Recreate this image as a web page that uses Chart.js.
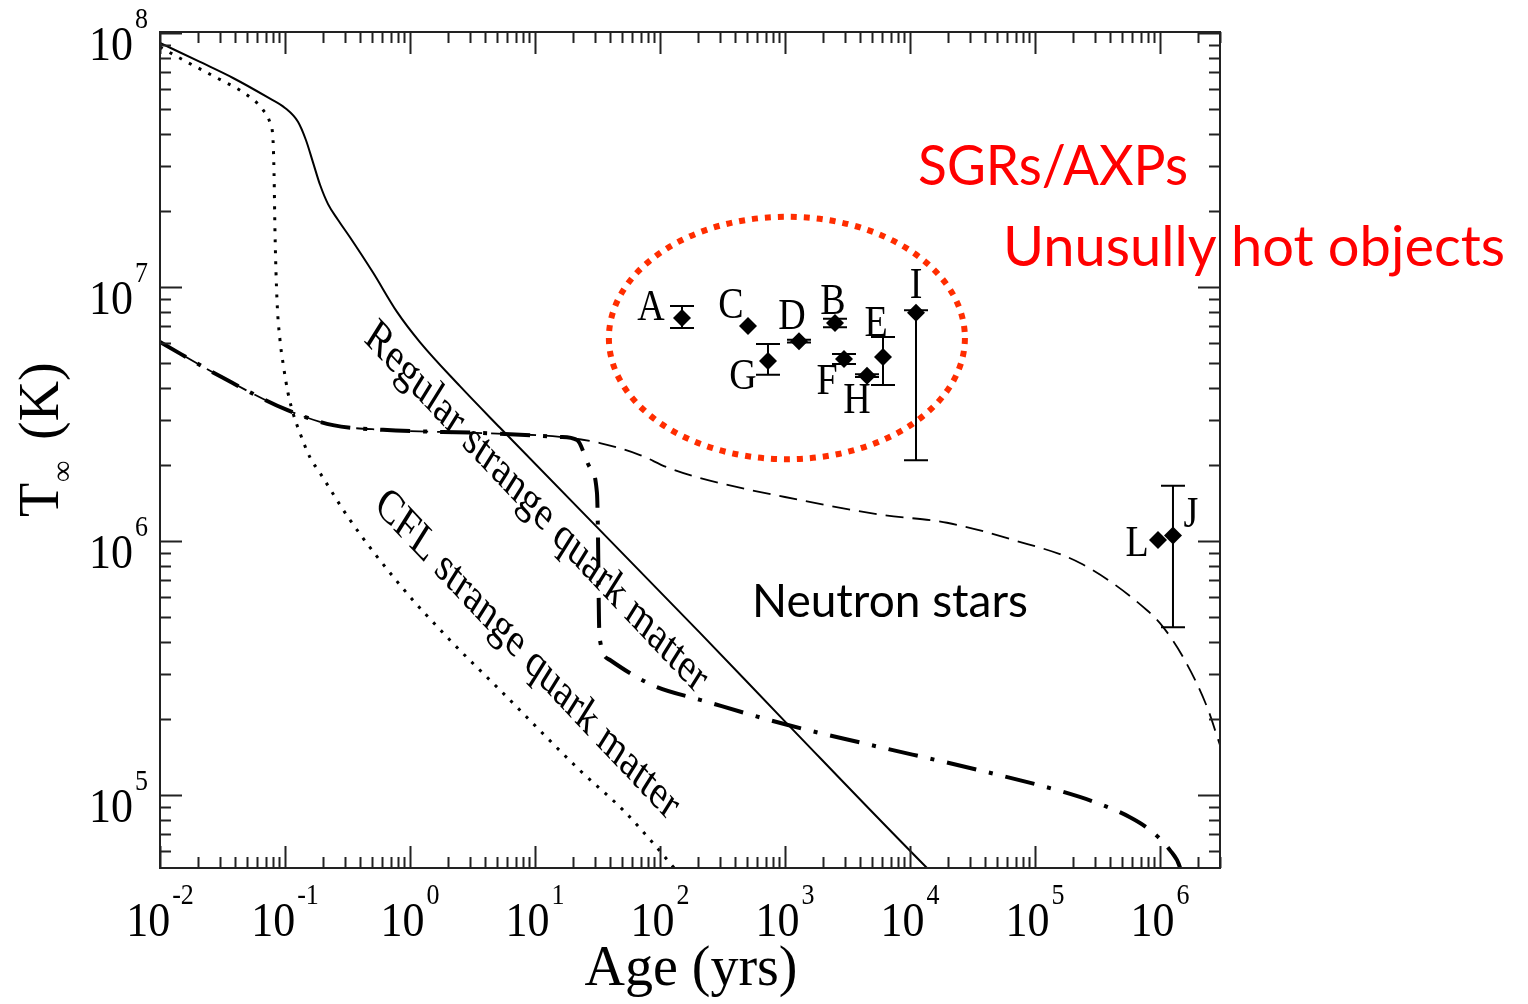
<!DOCTYPE html>
<html>
<head>
<meta charset="utf-8">
<script src="https://cdn.jsdelivr.net/npm/chart.js@4.4.1/dist/chart.umd.min.js"></script>
<style>
  html, body { margin: 0; padding: 0; background: #fff; }
  canvas { display: block; }
</style>
</head>
<body>
<canvas id="coolingChart" width="1528" height="1004"></canvas>
<script>
// Cooling curves, age (yrs) vs T_inf (K)

// Regular strange quark matter (solid)
const regularAge  = [0.01, 0.0209, 0.0384, 0.0718, 0.1, 0.127, 0.147, 0.167, 0.191, 0.221, 0.265, 0.331, 0.506, 0.787, 1.2, 2.51, 5.25, 209, 1038, 13680, 20000];
const regularTemp = [9.14e7, 7.69e7, 6.65e7, 5.6e7, 5.07e7, 4.47e7, 3.79e7, 3.11e7, 2.52e7, 2.12e7, 1.84e7, 1.57e7, 1.14e7, 7.98e6, 6.07e6, 4.07e6, 2.79e6, 4.35e5, 1.91e5, 5.16e4, 4.3e4];

// CFL strange quark matter (dotted)
const cflAge  = [0.01, 0.0164, 0.0286, 0.0497, 0.0667, 0.0759, 0.0802, 0.0817, 0.0832, 0.0863, 0.0912, 0.0964, 0.1057, 0.1159, 0.1318, 0.158, 0.191, 0.331, 0.832, 2.09, 5.25, 22.9, 50.6, 87.9, 120, 145];
const cflTemp = [8.8e7, 7.69e7, 6.65e7, 5.7e7, 4.98e7, 4.43e7, 3.79e7, 2.81e7, 1.63e7, 8.89e6, 6.18e6, 5.02e6, 3.83e6, 3.19e6, 2.66e6, 2.14e6, 1.85e6, 1.21e6, 6.71e5, 4.07e5, 2.59e5, 1.25e5, 8.73e4, 6.47e4, 5.4e4, 4.84e4];

// Dash-dot curve
const dashDotAge  = [0.01, 0.0319, 0.1038, 0.242, 0.608, 3.84, 15.8, 21.7, 27.5, 31.3, 31.9, 32.5, 33.1, 39.8, 60.8, 94.6, 209, 1038, 4207, 36300, 1.67e5, 3.13e5, 5.75e5, 8.32e5, 1.2e6, 1.45e6, 1.58e6];
const dashDotTemp = [6.07e6, 4.39e6, 3.28e6, 2.86e6, 2.74e6, 2.66e6, 2.57e6, 2.5e6, 1.95e6, 1.55e6, 1.07e6, 4.89e5, 4.07e5, 3.4e5, 2.97e5, 2.66e5, 2.37e5, 1.89e5, 1.6e5, 1.25e5, 1.03e5, 9.31e4, 8.18e4, 7.28e4, 6.07e4, 5.16e4, 4.2e4];

// Neutron stars (dashed)
const neutronAge  = [0.01, 0.0319, 0.1038, 0.242, 0.608, 3.84, 15.8, 33.1, 69.2, 114, 209, 1318, 5754, 19770, 66680, 2.29e5, 7.87e5, 1.06e6, 1.53e6, 2.38e6, 3.02e6];
const neutronTemp = [6.07e6, 4.39e6, 3.28e6, 2.86e6, 2.74e6, 2.66e6, 2.57e6, 2.43e6, 2.18e6, 1.95e6, 1.77e6, 1.45e6, 1.27e6, 1.18e6, 1.01e6, 8.19e5, 5.34e5, 4.58e5, 3.49e5, 2.22e5, 1.57e5];

// Observed objects
const objNames  = ['A', 'C', 'D', 'B', 'E', 'I', 'G', 'F', 'H', 'L', 'J'];
const objAge    = [150, 506, 1294, 2512, 6081, 11170, 731, 2965, 4529, 9.64e5, 1.27e6];
const objTemp   = [7.55e6, 7.02e6, 6.12e6, 7.21e6, 5.3e6, 7.91e6, 5.11e6, 5.21e6, 4.47e6, 1.01e6, 1.05e6];
const objTempHi = [8.41e6, null, 6.2e6, 7.5e6, 6.35e6, 8.1e6, 5.97e6, 5.45e6, 4.53e6, null, 1.65e6];
const objTempLo = [6.9e6, null, 6.05e6, 6.95e6, 4.11e6, 2.08e6, 4.51e6, 4.98e6, 4.42e6, null, 4.58e5];

// axis tick labels (powers of ten)
const xTickExps = [-2, -1, 0, 1, 2, 3, 4, 5, 6];
const yTickExps = [5, 6, 7, 8];

// label placement (pixel offsets from the marker)
const objLabelOffset = [[-31, -9], [-17, -20], [-7, -24], [-2, -21], [-7, -33], [0, -26], [-25, 16], [-17, 24], [-10, 26], [-21, 5], [18, -20]];

const SERIF = '"Liberation Serif", "Times New Roman", serif';
const SANS = 'Lato, "Open Sans", sans-serif';

function toPoints(xs, ys) {
    return xs.map((x, i) => ({ x: x, y: ys[i] }));
}

function logTicks(min, max) {
    const out = [];
    for (let d = Math.floor(Math.log10(min)); d <= Math.ceil(Math.log10(max)); d++) {
        for (let m = 1; m <= 9; m++) {
            const v = m * Math.pow(10, d);
            if (v >= min * 0.999 && v <= max) out.push({ v: v, major: m === 1 });
        }
    }
    return out;
}

// text with a vertical stretch (the source figure is squashed horizontally)
function stretchedText(ctx, text, x, y, sy) {
    ctx.save();
    ctx.translate(x, y);
    ctx.scale(1, sy);
    ctx.fillText(text, 0, 0);
    ctx.restore();
}

function powLabel(ctx, exp, x, baseline, align) {
    ctx.font = '44px ' + SERIF;
    const wb = ctx.measureText('10').width;
    ctx.font = '26px ' + SERIF;
    const we = ctx.measureText(String(exp)).width;
    const total = wb + 2 + we;
    const left = align === 'center' ? x - total / 2 : x - total;
    ctx.textAlign = 'left';
    ctx.textBaseline = 'alphabetic';
    ctx.font = '44px ' + SERIF;
    stretchedText(ctx, '10', left, baseline, 1.12);
    ctx.font = '26px ' + SERIF;
    stretchedText(ctx, String(exp), left + wb + 2, baseline - 32, 1.12);
}

const frameAxes = {
    id: 'frameAxes',
    afterDatasetsDraw(chart) {
        const ctx = chart.ctx;
        const area = chart.chartArea;
        const xs = chart.scales.x, ys = chart.scales.y;
        ctx.save();
        ctx.strokeStyle = '#222';
        ctx.lineWidth = 2;
        ctx.strokeRect(area.left, area.top, area.right - area.left, area.bottom - area.top);

        ctx.beginPath();
        logTicks(xs.min, xs.max).forEach(t => {
            const px = Math.round(xs.getPixelForValue(t.v)) + 0.5;
            const len = t.major ? 22 : 11;
            ctx.moveTo(px, area.bottom); ctx.lineTo(px, area.bottom - len);
            ctx.moveTo(px, area.top); ctx.lineTo(px, area.top + len);
        });
        logTicks(ys.min, ys.max).forEach(t => {
            const py = Math.round(ys.getPixelForValue(t.v)) + 0.5;
            const len = t.major ? 22 : 11;
            ctx.moveTo(area.left, py); ctx.lineTo(area.left + len, py);
            ctx.moveTo(area.right, py); ctx.lineTo(area.right - len, py);
        });
        ctx.stroke();

        ctx.fillStyle = '#000';
        xTickExps.forEach(e => {
            powLabel(ctx, e, xs.getPixelForValue(Math.pow(10, e)), 936, 'center');
        });
        yTickExps.forEach(e => {
            powLabel(ctx, e, 148, ys.getPixelForValue(Math.pow(10, e)) + 27, 'right');
        });

        // axis titles
        ctx.font = '56px ' + SERIF;
        ctx.textAlign = 'center';
        ctx.textBaseline = 'alphabetic';
        ctx.fillText('Age (yrs)', 691, 985);

        ctx.save();
        ctx.translate(58, 517);
        ctx.rotate(-Math.PI / 2);
        ctx.textAlign = 'left';
        ctx.font = '56px ' + SERIF;
        ctx.fillText('T', 0, 0);
        ctx.font = '30px ' + SERIF;
        ctx.fillText('\u221E', 35, 14);
        ctx.font = '56px ' + SERIF;
        ctx.fillText('(K)', 77, 0);
        ctx.restore();

        ctx.restore();
    }
};

const errorBars = {
    id: 'errorBars',
    afterDatasetsDraw(chart) {
        const ctx = chart.ctx;
        const xs = chart.scales.x, ys = chart.scales.y;
        ctx.save();
        ctx.strokeStyle = '#000';
        ctx.lineWidth = 2;
        ctx.beginPath();
        objAge.forEach((age, i) => {
            if (objTempLo[i] == null) return;
            const px = xs.getPixelForValue(age);
            const top = ys.getPixelForValue(objTempHi[i]);
            const bot = ys.getPixelForValue(objTempLo[i]);
            ctx.moveTo(px, top); ctx.lineTo(px, bot);
            ctx.moveTo(px - 12, top); ctx.lineTo(px + 12, top);
            ctx.moveTo(px - 12, bot); ctx.lineTo(px + 12, bot);
        });
        ctx.stroke();
        ctx.restore();
    }
};

const annotations = {
    id: 'annotations',
    afterDraw(chart) {
        const ctx = chart.ctx;
        const xs = chart.scales.x, ys = chart.scales.y;
        ctx.save();

        // red dotted ring around the SGRs/AXPs
        const x1 = xs.getPixelForValue(39), x2 = xs.getPixelForValue(27500);
        const y1 = ys.getPixelForValue(1.89e7), y2 = ys.getPixelForValue(2.1e6);
        ctx.strokeStyle = '#ff2d00';
        ctx.lineWidth = 6;
        ctx.setLineDash([6, 7]);
        ctx.beginPath();
        ctx.ellipse((x1 + x2) / 2, (y1 + y2) / 2, (x2 - x1) / 2, (y2 - y1) / 2, 0, 0, Math.PI * 2);
        ctx.stroke();
        ctx.setLineDash([]);

        // object names
        ctx.fillStyle = '#000';
        ctx.font = '38px ' + SERIF;
        ctx.textAlign = 'center';
        ctx.textBaseline = 'middle';
        objNames.forEach((n, i) => {
            const px = xs.getPixelForValue(objAge[i]) + objLabelOffset[i][0];
            const py = ys.getPixelForValue(objTemp[i]) + objLabelOffset[i][1];
            stretchedText(ctx, n, px, py, 1.15);
        });

        // curve labels, written along the curves
        const rotLabel = (text, age, temp) => {
            ctx.save();
            ctx.translate(xs.getPixelForValue(age), ys.getPixelForValue(temp));
            ctx.scale(1, 1.3);
            ctx.rotate(Math.atan(1.06 / 1.3));
            ctx.fillText(text, 0, 0);
            ctx.restore();
        };
        ctx.font = '37px ' + SERIF;
        rotLabel('Regular strange quark matter', 10.2, 1.35e6);
        rotLabel('CFL strange quark matter', 8.63, 3.56e5);

        ctx.textAlign = 'left';
        ctx.textBaseline = 'alphabetic';
        ctx.font = '46px ' + SANS;
        ctx.fillText('Neutron stars', 752, 617, 281);

        ctx.fillStyle = '#ff0000';
        ctx.font = '56px ' + SANS;
        ctx.fillText('SGRs/AXPs', 918, 185, 270);
        ctx.fillText('Unusully hot objects', 1003, 266, 505);

        ctx.restore();
    }
};

document.addEventListener('DOMContentLoaded', function() {
    const ctx = document.getElementById('coolingChart');
    new Chart(ctx, {
        type: 'line',
        data: {
            datasets: [
                {
                    label: 'Neutron stars',
                    data: toPoints(neutronAge, neutronTemp),
                    borderColor: '#000',
                    borderWidth: 1.8,
                    borderDash: [18, 9],
                    cubicInterpolationMode: 'monotone',
                    pointRadius: 0,
                    fill: false
                },
                {
                    label: 'Dash-dot',
                    data: toPoints(dashDotAge, dashDotTemp),
                    borderColor: '#000',
                    borderWidth: 4,
                    borderDash: [30, 13, 4, 13],
                    cubicInterpolationMode: 'monotone',
                    pointRadius: 0,
                    fill: false
                },
                {
                    label: 'Regular strange quark matter',
                    data: toPoints(regularAge, regularTemp),
                    borderColor: '#000',
                    borderWidth: 2,
                    cubicInterpolationMode: 'monotone',
                    pointRadius: 0,
                    fill: false
                },
                {
                    label: 'CFL strange quark matter',
                    data: toPoints(cflAge, cflTemp),
                    borderColor: '#000',
                    borderWidth: 3,
                    borderDash: [3, 8],
                    cubicInterpolationMode: 'monotone',
                    pointRadius: 0,
                    fill: false
                },
                {
                    label: 'SGRs/AXPs',
                    data: toPoints(objAge, objTemp),
                    showLine: false,
                    pointStyle: 'rectRot',
                    pointRadius: 9,
                    pointBackgroundColor: '#000',
                    pointBorderColor: '#000',
                    pointBorderWidth: 0
                }
            ]
        },
        options: {
            responsive: false,
            animation: false,
            layout: { padding: { left: 160, right: 308, top: 32, bottom: 136 } },
            plugins: {
                legend: { display: false },
                tooltip: { enabled: false }
            },
            scales: {
                x: { type: 'logarithmic', min: 0.01, max: 3.02e6, display: false },
                y: { type: 'logarithmic', min: 5.16e4, max: 1.009e8, display: false }
            }
        },
        plugins: [frameAxes, errorBars, annotations]
    });
});
</script>
</body>
</html>
